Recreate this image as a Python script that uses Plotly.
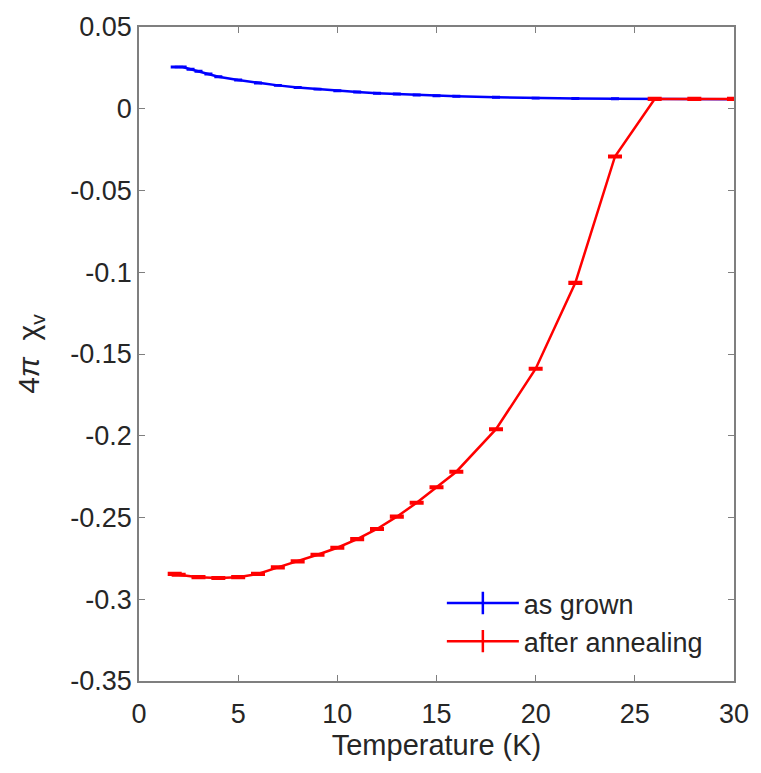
import plotly.graph_objects as go

# as grown
t_grown = [1.8, 2.2, 2.6, 3.0, 3.5, 4.0, 5.0, 6.0, 7.0, 8.0, 9.0, 10.0, 11.0, 12.0,
           13.0, 14.0, 15.0, 16.0, 18.0, 20.0, 22.0, 24.0, 26.0, 28.0, 30.0]
chi_grown = [0.0255, 0.0255, 0.0242, 0.0230, 0.0212, 0.0196, 0.0176, 0.0158, 0.0143,
             0.0130, 0.0120, 0.0110, 0.0102, 0.0095, 0.0090, 0.0084, 0.0080, 0.0077,
             0.0070, 0.0065, 0.0063, 0.0061, 0.0060, 0.0059, 0.0058]
err_grown = [0.0003] * len(t_grown)

# after annealing
t_ann = [1.8, 2.0, 3.0, 4.0, 5.0, 6.0, 7.0, 8.0, 9.0, 10.0, 11.0, 12.0, 13.0, 14.0,
         15.0, 16.0, 18.0, 20.0, 22.0, 24.0, 26.0, 28.0, 30.0]
chi_ann = [-0.2845, -0.2850, -0.2865, -0.2870, -0.2865, -0.2845, -0.2805, -0.2768,
           -0.2728, -0.2685, -0.2632, -0.2570, -0.2495, -0.2410, -0.2315, -0.2220,
           -0.1960, -0.1590, -0.1065, -0.0292, 0.0060, 0.0060, 0.0060]
err_ann = [0.0005] * len(t_ann)

x_ticks = [0, 5, 10, 15, 20, 25, 30]
y_ticks = [0.05, 0, -0.05, -0.1, -0.15, -0.2, -0.25, -0.3, -0.35]
y_ticktext = ["0.05", "0", "-0.05", "-0.1", "-0.15", "-0.2", "-0.25", "-0.3", "-0.35"]

BLUE = "#0000ff"
RED = "#ff0000"
AX = "#7f7f7f"
TXT = "#262626"
FONT = "Liberation Sans, Arial, sans-serif"

fig = go.Figure()
fig.add_trace(go.Scatter(
    x=t_grown, y=chi_grown, mode="lines", showlegend=False,
    line=dict(color=BLUE, width=2.5),
    error_y=dict(type="data", array=err_grown, color=BLUE, thickness=2, width=4),
))
fig.add_trace(go.Scatter(
    x=t_ann, y=chi_ann, mode="lines", showlegend=False,
    line=dict(color=RED, width=2.5),
    error_y=dict(type="data", array=err_ann, color=RED, thickness=2.5, width=7),
))
# legend entries
fig.add_trace(go.Scatter(
    x=[None], y=[None], mode="lines+markers", name="as grown",
    line=dict(color=BLUE, width=2.5),
    marker=dict(symbol="line-ns", size=22, line=dict(color=BLUE, width=2.5)),
))
fig.add_trace(go.Scatter(
    x=[None], y=[None], mode="lines+markers", name="after annealing",
    line=dict(color=RED, width=2.5),
    marker=dict(symbol="line-ns", size=22, line=dict(color=RED, width=2.5)),
))

axis_common = dict(
    showline=True, linecolor=AX, linewidth=1.5, mirror="ticks",
    ticks="inside", ticklen=6, tickwidth=1.2, tickcolor=AX,
    showgrid=False, zeroline=False,
    tickfont=dict(family=FONT, size=27, color=TXT),
)

fig.update_layout(
    width=761, height=773,
    margin=dict(l=139, r=19, t=19, b=92),
    paper_bgcolor="white", plot_bgcolor="white",
    font=dict(family=FONT, color=TXT),
    xaxis=dict(
        range=[0, 30], tickvals=x_ticks, ticklabelstandoff=8,
        title=dict(text="Temperature (K)", font=dict(family=FONT, size=29, color=TXT), standoff=6),
        **axis_common,
    ),
    yaxis=dict(
        range=[-0.35, 0.05], tickvals=y_ticks, ticktext=y_ticktext,
        title=dict(text="4<i>π</i>\u00a0\u00a0χ<sub>v</sub>",
                   font=dict(family=FONT, size=30, color=TXT), standoff=22),
        **axis_common,
    ),
    legend=dict(
        x=0.509, y=0.156, xanchor="left", yanchor="top",
        bgcolor="rgba(255,255,255,0)", borderwidth=0,
        font=dict(family=FONT, size=27, color=TXT),
        itemwidth=72, tracegroupgap=0,
    ),
)

fig.write_html("out.html")
